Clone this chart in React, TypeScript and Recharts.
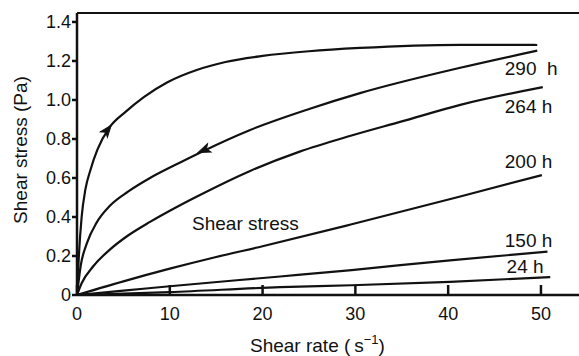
import React from "react";
import {
  LineChart,
  Line,
  XAxis,
  YAxis,
  ReferenceLine,
  ReferenceDot,
} from "recharts";

// shear rate (s-1), shear stress (Pa)
const up290: [number, number][] = [
  [0, 0], [0.2, 0.2], [0.5, 0.4], [0.9, 0.54], [1.44, 0.64], [2.2, 0.745],
  [3.56, 0.863], [5.2, 0.938], [7.2, 1.015], [9.7, 1.09], [12.9, 1.154],
  [16, 1.195], [20, 1.226], [25, 1.25], [30.5, 1.267], [41.3, 1.283],
  [49.6, 1.282],
];
const down290: [number, number][] = [
  [0, 0], [0.4, 0.15], [1.1, 0.27], [2.1, 0.37], [3.6, 0.46], [5.5, 0.53],
  [7.87, 0.6], [10.5, 0.665], [13.25, 0.73], [18.6, 0.845], [25.1, 0.955],
  [30.5, 1.035], [41.3, 1.165], [49.6, 1.253],
];
const h264: [number, number][] = [
  [0, 0], [0.5, 0.06], [1.8, 0.15], [3.6, 0.235], [5.5, 0.305], [7.87, 0.375],
  [10.5, 0.445], [13.25, 0.513], [18.6, 0.635], [24, 0.735], [29.4, 0.815],
  [35, 0.89], [41.3, 0.975], [50.2, 1.066],
];
const h200: [number, number][] = [
  [0, 0], [5, 0.07], [10, 0.135], [15, 0.195], [20, 0.25], [29.4, 0.36],
  [41.3, 0.505], [50.1, 0.615],
];
const h150: [number, number][] = [
  [0, 0], [5, 0.022], [10, 0.045], [21.9, 0.095], [29.6, 0.128],
  [40.2, 0.178], [50.7, 0.222],
];
const h24: [number, number][] = [
  [0, 0], [10, 0.015], [21.9, 0.04], [29.6, 0.05], [40.2, 0.067], [51, 0.092],
];

const xTicks = [0, 10, 20, 30, 40, 50];
const yTicks = [0, 0.2, 0.4, 0.6, 0.8, 1.0, 1.2, 1.4];
const X_MAX = 54.1;
const Y_MAX = 1.446;

// curve labels: [x, y, text]
const curveLabels: [number, number, string][] = [
  [46.1, 1.128, "290\u00a0\u00a0h"],
  [46.1, 0.933, "264 h"],
  [46.1, 0.65, "200 h"],
  [46.1, 0.246, "150 h"],
  [46.3, 0.113, "24 h"],
  [12.4, 0.333, "Shear stress"],
];

// arrowheads: [x, y, angle in degrees]
const arrows: [number, number, number][] = [
  [3.56, 0.863, -52],
  [13.25, 0.735, 158],
];

const toPts = (arr: [number, number][]) => arr.map(([x, y]) => ({ x, y }));

const series = [up290, down290, h264, h200, h150, h24];

const FONT = "'Liberation Sans', Arial, Helvetica, sans-serif";
const INK = "#111";

const Arrow = (props: any) => {
  const { cx, cy, angle } = props;
  return (
    <polygon
      points="2,0 -10,-4.5 -7,0 -10,4.5"
      fill={INK}
      stroke={INK}
      strokeWidth={1}
      transform={`translate(${cx},${cy}) rotate(${angle})`}
    />
  );
};

const LabelText = (props: any) => {
  const { cx, cy, text } = props;
  return (
    <text x={cx} y={cy} fontSize={19} fontFamily={FONT} fill={INK}>
      {text}
    </text>
  );
};

const App = () => {
  return (
    <div style={{ position: "absolute", left: 0, top: 0, background: "#fff" }}>
      <LineChart
        width={579}
        height={356}
        margin={{ top: 13, right: 0, left: 0, bottom: 0 }}
      >
        <XAxis
          type="number"
          dataKey="x"
          domain={[0, X_MAX]}
          ticks={xTicks}
          allowDataOverflow
          height={61}
          stroke={INK}
          strokeWidth={2.5}
          tickSize={-10}
          tickMargin={22}
          tick={{ fill: INK, fontSize: 18, fontFamily: FONT }}
          label={{
            content: (p: any) => {
              const vb = p.viewBox;
              return (
                <text
                  x={vb.x + 173}
                  y={352}
                  fontSize={19}
                  fontFamily={FONT}
                  fill={INK}
                >
                  {"Shear rate (\u2009s"}
                  <tspan dy={-8} fontSize={13}>
                    −1
                  </tspan>
                  <tspan dy={8}>)</tspan>
                </text>
              );
            },
          }}
        />
        <YAxis
          type="number"
          dataKey="y"
          domain={[0, Y_MAX]}
          ticks={yTicks}
          allowDataOverflow
          width={77}
          stroke={INK}
          strokeWidth={2.5}
          tickSize={5}
          tickMargin={1}
          tickFormatter={(v: number) => (v === 0 ? "0" : v.toFixed(1))}
          tick={{ fill: INK, fontSize: 18, fontFamily: FONT }}
          label={{
            content: () => (
              <text
                x={0}
                y={0}
                transform="translate(27,150) rotate(-90)"
                textAnchor="middle"
                fontSize={19}
                fontFamily={FONT}
                fill={INK}
              >
                Shear stress (Pa)
              </text>
            ),
          }}
        />
        <ReferenceLine y={Y_MAX} stroke={INK} strokeWidth={2} />
        {series.map((s, i) => (
          <Line
            key={i}
            data={toPts(s)}
            dataKey="y"
            type="monotone"
            stroke={INK}
            strokeWidth={2.2}
            dot={false}
            isAnimationActive={false}
          />
        ))}
        {arrows.map(([x, y, a], i) => (
          <ReferenceDot
            key={`a${i}`}
            x={x}
            y={y}
            r={0}
            shape={(p: any) => <Arrow {...p} angle={a} />}
          />
        ))}
        {curveLabels.map(([x, y, t], i) => (
          <ReferenceDot
            key={`l${i}`}
            x={x}
            y={y}
            r={0}
            shape={(p: any) => <LabelText {...p} text={t} />}
          />
        ))}
      </LineChart>
    </div>
  );
};

export default App;
